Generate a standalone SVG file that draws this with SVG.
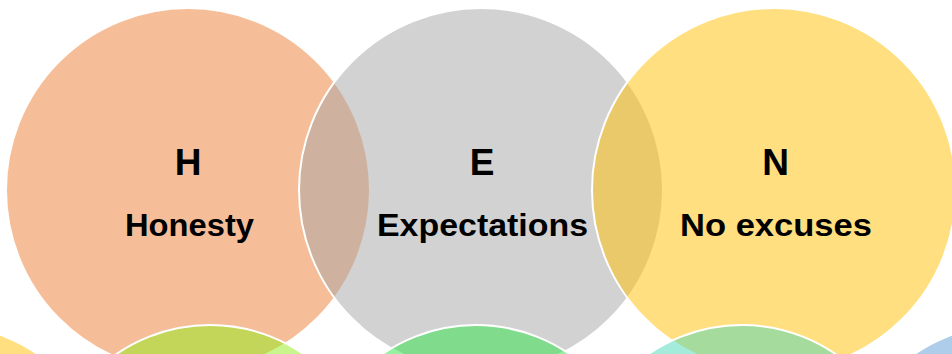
<svg xmlns="http://www.w3.org/2000/svg" width="952" height="354" viewBox="0 0 952 354">
<style>
.c{stroke:#FFFFFF;stroke-width:2;fill-opacity:0.5}
.big{font-family:"Liberation Sans",Arial,sans-serif;font-weight:bold;font-size:37px;fill:#000;text-anchor:middle}
.lbl{font-family:"Liberation Sans",Arial,sans-serif;font-weight:bold;font-size:32px;fill:#000;text-anchor:middle}
</style>
<rect width="952" height="354" fill="#FFFFFF"/>
<g id="node-h">
<circle class="c" cx="188" cy="190" r="182" fill="#ED7D31"/>
<text class="big" x="188" y="175">H</text>
<text class="lbl" x="189.5" y="236" textLength="129" lengthAdjust="spacingAndGlyphs">Honesty</text>
</g>
<g id="node-e">
<circle class="c" cx="481" cy="190" r="182" fill="#A5A5A5"/>
<text class="big" x="482" y="175">E</text>
<text class="lbl" x="482.5" y="236" textLength="211" lengthAdjust="spacingAndGlyphs">Expectations</text>
</g>
<g id="node-n">
<circle class="c" cx="774" cy="190" r="182" fill="#FFC000"/>
<text class="big" x="775.5" y="175">N</text>
<text class="lbl" x="776" y="236" textLength="192" lengthAdjust="spacingAndGlyphs">No excuses</text>
</g>
<g id="node-b1"><circle class="c" cx="-56" cy="490" r="165" fill="#FFC000"/></g>
<g id="node-b2"><circle class="c" cx="210" cy="490" r="165" fill="#92EE1C"/></g>
<g id="node-b3"><circle class="c" cx="476" cy="490" r="165" fill="#2EE646"/></g>
<g id="node-b4"><circle class="c" cx="742" cy="490" r="165" fill="#4BD7B9"/></g>
<g id="node-b5"><circle class="c" cx="1008" cy="490" r="165" fill="#5B9BD5"/></g>
<g id="connectors"></g>
</svg>
